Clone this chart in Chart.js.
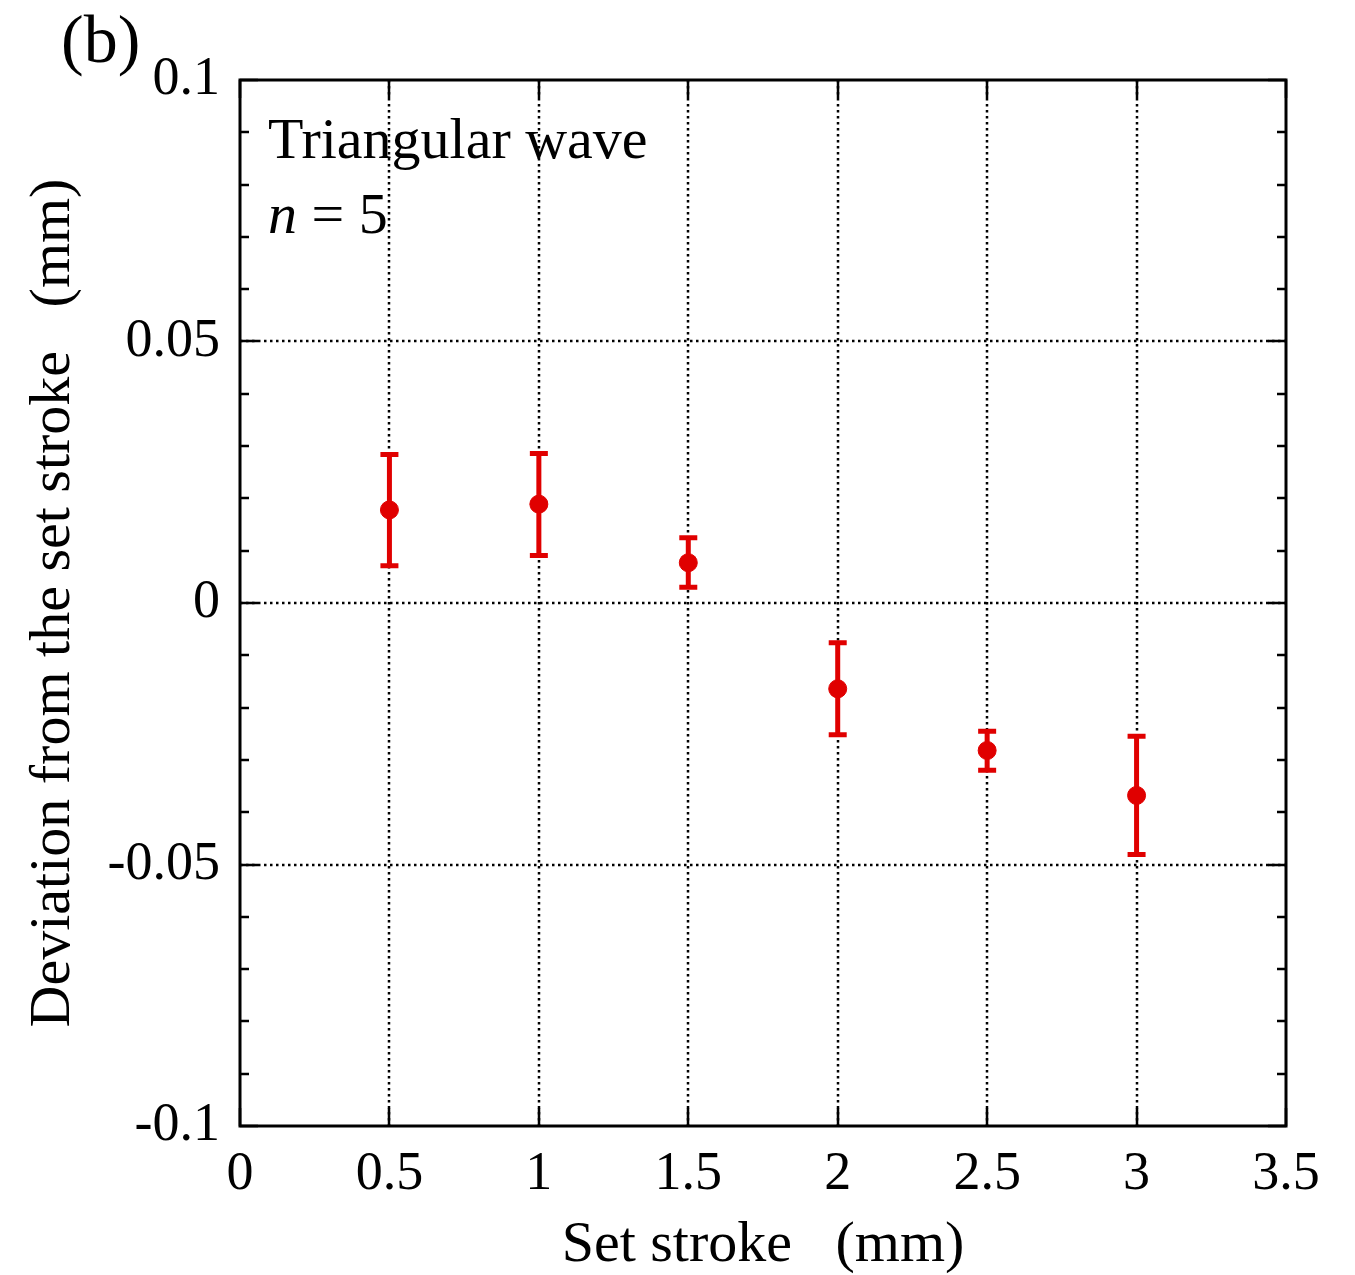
<!DOCTYPE html>
<html>
<head>
<meta charset="utf-8">
<script src="https://cdn.jsdelivr.net/npm/chart.js@4/dist/chart.umd.min.js"></script>
<style>
  html, body { margin: 0; padding: 0; background: #fff; }
  #wrap { width: 1355px; height: 1275px; position: relative; }
</style>
</head>
<body>
<div id="wrap"><canvas id="strokeChart"></canvas></div>
<script>
// set stroke (mm) and mean deviation (mm)
const strokes = [0.5, 1, 1.5, 2, 2.5, 3];
const deviation = [0.0178, 0.0189, 0.0077, -0.0164, -0.0282, -0.0368];
// error bar ends
const errLow = [0.0071, 0.0091, 0.0030, -0.0252, -0.0320, -0.0481];
const errHigh = [0.0284, 0.0286, 0.0125, -0.0076, -0.0245, -0.0255];

const xTicks = [0, 0.5, 1, 1.5, 2, 2.5, 3, 3.5];
const yMajor = [-0.1, -0.05, 0, 0.05, 0.1];

const RED = '#e00000';
const SERIF = '"Liberation Serif", "Times New Roman", serif';

const isMajorY = v => Math.round(v * 100) % 5 === 0;

// grid, error bars, frame with inward ticks, text
const framePlugin = {
    id: 'frame',
    beforeDatasetsDraw(chart) {
        const ctx = chart.ctx;
        const { left, right, top, bottom } = chart.chartArea;
        const xs = chart.scales.x, ys = chart.scales.y;

        ctx.save();
        ctx.strokeStyle = '#000';
        ctx.lineWidth = 2.5;
        ctx.setLineDash([2.5, 3.5]);
        xTicks.slice(1, -1).forEach(v => {
            const px = Math.round(xs.getPixelForValue(v));
            ctx.beginPath();
            ctx.moveTo(px, top);
            ctx.lineTo(px, bottom);
            ctx.stroke();
        });
        yMajor.slice(1, -1).forEach(v => {
            const py = Math.round(ys.getPixelForValue(v));
            ctx.beginPath();
            ctx.moveTo(left, py);
            ctx.lineTo(right, py);
            ctx.stroke();
        });
        ctx.restore();

        // error bars
        ctx.save();
        ctx.strokeStyle = RED;
        ctx.lineWidth = 5;
        strokes.forEach((s, i) => {
            const px = xs.getPixelForValue(s);
            const y1 = ys.getPixelForValue(errHigh[i]);
            const y2 = ys.getPixelForValue(errLow[i]);
            ctx.beginPath();
            ctx.moveTo(px, y1);
            ctx.lineTo(px, y2);
            ctx.moveTo(px - 9, y1);
            ctx.lineTo(px + 9, y1);
            ctx.moveTo(px - 9, y2);
            ctx.lineTo(px + 9, y2);
            ctx.stroke();
        });
        ctx.restore();
    },
    afterDraw(chart) {
        const ctx = chart.ctx;
        const { left, right, top, bottom } = chart.chartArea;
        const xs = chart.scales.x, ys = chart.scales.y;

        ctx.save();
        ctx.strokeStyle = '#000';
        ctx.lineWidth = 2.5;
        // inward ticks
        ctx.beginPath();
        xTicks.forEach(v => {
            const px = Math.round(xs.getPixelForValue(v));
            ctx.moveTo(px, bottom);
            ctx.lineTo(px, bottom - 18);
            ctx.moveTo(px, top);
            ctx.lineTo(px, top + 18);
        });
        ys.ticks.forEach(t => {
            const py = Math.round(ys.getPixelForValue(t.value));
            const len = isMajorY(t.value) ? 18 : 9;
            ctx.moveTo(left, py);
            ctx.lineTo(left + len, py);
            ctx.moveTo(right, py);
            ctx.lineTo(right - len, py);
        });
        ctx.stroke();
        ctx.lineWidth = 3;
        ctx.strokeRect(left, top, right - left, bottom - top);

        // panel label and annotation
        ctx.fillStyle = '#000';
        ctx.textAlign = 'left';
        ctx.textBaseline = 'alphabetic';
        ctx.font = '68px ' + SERIF;
        ctx.fillText('(b)', 61, 62);
        ctx.font = '58px ' + SERIF;
        ctx.fillText('Triangular wave', 268, 158);
        ctx.font = 'italic 58px ' + SERIF;
        ctx.fillText('n', 268, 233);
        const nw = ctx.measureText('n').width;
        ctx.font = '58px ' + SERIF;
        ctx.fillText(' = 5', 268 + nw, 233);
        ctx.restore();
    }
};

const ctx = document.getElementById('strokeChart').getContext('2d');
const strokeChart = new Chart(ctx, {
    type: 'scatter',
    data: {
        datasets: [{
            label: 'Deviation',
            data: strokes.map((s, i) => ({ x: s, y: deviation[i] })),
            backgroundColor: RED,
            borderColor: RED,
            pointRadius: 9,
            pointHoverRadius: 9,
            showLine: false
        }]
    },
    options: {
        responsive: true,
        maintainAspectRatio: false,
        animation: false,
        layout: {
            padding: { left: 0, top: 80, right: 69, bottom: 0 }
        },
        plugins: {
            legend: { display: false },
            tooltip: { enabled: false }
        },
        scales: {
            x: {
                type: 'linear',
                min: 0,
                max: 3.5,
                grid: { display: false },
                border: { display: false },
                ticks: {
                    stepSize: 0.5,
                    padding: 8,
                    color: '#000',
                    font: { family: SERIF, size: 54 },
                    callback: v => String(v)
                },
                title: {
                    display: true,
                    text: 'Set stroke   (mm)',
                    color: '#000',
                    font: { family: SERIF, size: 58, lineHeight: 1 },
                    padding: { top: 0, bottom: 0 }
                },
                afterFit: scale => { scale.height = 149; }
            },
            y: {
                type: 'linear',
                min: -0.1,
                max: 0.1,
                grid: { display: false },
                border: { display: false },
                ticks: {
                    stepSize: 0.01,
                    autoSkip: false,
                    padding: 12,
                    color: '#000',
                    font: { family: SERIF, size: 54 },
                    callback: v => isMajorY(v) ? String(Math.round(v * 100) / 100) : ''
                },
                title: {
                    display: true,
                    text: 'Deviation from the set stroke   (mm)',
                    color: '#000',
                    font: { family: SERIF, size: 58, lineHeight: 1 },
                    padding: { top: 25, bottom: 0 }
                },
                afterFit: scale => { scale.width = 240; }
            }
        }
    },
    plugins: [framePlugin]
});
</script>
</body>
</html>
